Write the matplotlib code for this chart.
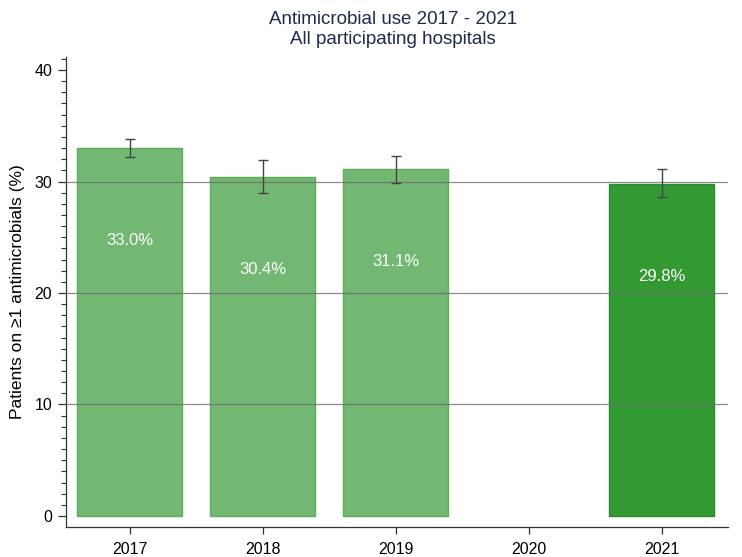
import numpy as np
import matplotlib
matplotlib.use("Agg")
import matplotlib.pyplot as plt
from matplotlib.ticker import MultipleLocator

plt.rcParams['font.family'] = ['Liberation Sans', 'DejaVu Sans']

years = ["2017", "2018", "2019", "2020", "2021"]
values = [33.0, 30.4, 31.1, np.nan, 29.8]
ci_low = [32.2, 29.0, 29.9, np.nan, 28.6]
ci_high = [33.8, 31.9, 32.3, np.nan, 31.1]
labels = ["33.0%", "30.4%", "31.1%", "", "29.8%"]

light = "#72b872"
light_edge = "#5cae5c"
dark = "#339933"
dark_edge = "#2a8a2a"

fig = plt.figure(figsize=(7.42, 5.57), dpi=100)
ax = fig.add_axes([66/742, 1-527/557, (728-66)/742, (527-57)/557])

x = np.arange(len(years))
vals = np.array(values, dtype=float)
colors = [light, light, light, light, dark]
edges = [light_edge, light_edge, light_edge, light_edge, dark_edge]
for i in range(len(years)):
    if np.isnan(vals[i]):
        continue
    ax.bar(x[i], vals[i], width=0.79, color=colors[i], edgecolor=edges[i],
           linewidth=1.0, zorder=2)
    ax.errorbar(x[i], vals[i], yerr=[[vals[i]-ci_low[i]], [ci_high[i]-vals[i]]],
                fmt='none', ecolor='#444444', elinewidth=1.0, capsize=3.5,
                capthick=1.0, zorder=4)
    ax.text(x[i], vals[i]-8.3, labels[i], ha='center', va='center',
            color='white', fontsize=12, zorder=5)

for g in [10, 20, 30]:
    ax.axhline(g, color='#6e6e6e', linewidth=0.9, alpha=0.8, zorder=3)

ax.set_xlim(-0.48, 4.5)
ax.set_ylim(-0.99, 41.17)
ax.set_xticks(x)
ax.set_xticklabels(years, fontsize=11.5)
ax.set_yticks([0, 10, 20, 30, 40])
ax.set_yticklabels(["0", "10", "20", "30", "40"], fontsize=11.5)
ax.yaxis.set_minor_locator(MultipleLocator(1))
ax.tick_params(axis='y', which='major', length=6, width=0.9, color='#333333', pad=4)
ax.tick_params(axis='y', which='minor', length=3.5, width=0.8, color='#333333')
ax.tick_params(axis='x', which='major', length=5, width=0.9, color='#333333', pad=6)
ax.spines['top'].set_visible(False)
ax.spines['right'].set_visible(False)
ax.spines['left'].set_color('#333333')
ax.spines['bottom'].set_color('#333333')
ax.spines['left'].set_linewidth(0.9)
ax.spines['bottom'].set_linewidth(0.9)

ax.set_ylabel("Patients on \u22651 antimicrobials (%)", fontsize=12.5, labelpad=7)
fig.text(393/742, 1-20/557, "Antimicrobial use 2017 - 2021", ha='center', va='center',
         fontsize=13.5, color='#1f2a4d')
fig.text(393/742, 1-39/557, "All participating hospitals", ha='center', va='center',
         fontsize=13.5, color='#1f2a4d')

fig.savefig("out.png", dpi=100)
